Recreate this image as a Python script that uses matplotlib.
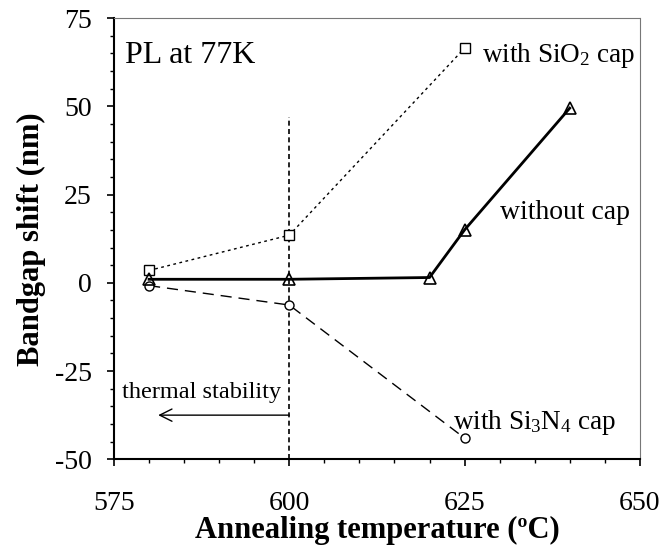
import matplotlib.pyplot as plt
from matplotlib.ticker import MultipleLocator

plt.rcParams['font.family'] = ['Liberation Serif', 'DejaVu Serif']
plt.rcParams['axes.unicode_minus'] = False
plt.rcParams['mathtext.fontset'] = 'custom'
plt.rcParams['mathtext.rm'] = 'Liberation Serif'
plt.rcParams['mathtext.it'] = 'Liberation Serif:italic'
plt.rcParams['mathtext.bf'] = 'Liberation Serif:bold'

# annealing temperature (C) and bandgap shift (nm)
sio2_temp = [580, 600, 625]
sio2_shift = [3.5, 13.5, 66.5]

nocap_temp = [580, 600, 620, 625, 640]
nocap_shift = [1.0, 1.0, 1.5, 15.0, 49.5]

si3n4_temp = [580, 600, 625]
si3n4_shift = [-0.8, -6.3, -44.0]

x_ticks = [575, 600, 625, 650]
y_ticks = [-50, -25, 0, 25, 50, 75]

fig = plt.figure(figsize=(6.61, 5.5), dpi=100)
ax = fig.add_axes([0.1725, 0.165, 0.7955, 0.802])

ax.plot(sio2_temp, sio2_shift, color='black', linestyle=(0, (2, 2.5)), linewidth=1.0,
        marker='s', markersize=7, markerfacecolor='white', markeredgecolor='black',
        markeredgewidth=1.0, zorder=3)
ax.plot(nocap_temp, nocap_shift, color='black', linestyle='-', linewidth=2.0,
        marker='^', markersize=9, markerfacecolor='none', markeredgecolor='black',
        markeredgewidth=1.2, zorder=4)
ax.plot(si3n4_temp, si3n4_shift, color='black', linestyle=(0, (8, 5)), linewidth=1.0,
        marker='o', markersize=6.5, markerfacecolor='white', markeredgecolor='black',
        markeredgewidth=1.0, zorder=3)

# thermal stability limit
ax.plot([600, 600], [-50, 47], color='black', linestyle=(0, (3, 2)), linewidth=1.2, zorder=2)
ax.annotate('', xy=(581.3, -37.5), xytext=(600, -37.5),
            arrowprops=dict(arrowstyle='->', color='black', lw=1.0,
                            mutation_scale=22, shrinkA=0, shrinkB=0))
ax.text(576.2, -31, 'thermal stability', fontsize=17.5, va='center', ha='left')

ax.text(576.6, 64.5, 'PL at 77K', fontsize=23, va='center', ha='left')
ax.text(627.5, 64.5, r'with SiO$_\mathrm{2}$ cap', fontsize=19.5, va='center', ha='left')
ax.text(630.0, 20.0, 'without cap', fontsize=20, va='center', ha='left')
ax.text(623.4, -39.5, r'with Si$_\mathrm{3}$N$_\mathrm{4}$ cap', fontsize=19.5, va='center', ha='left')

ax.set_xlim(575, 650)
ax.set_ylim(-50, 75)
ax.set_xticks(x_ticks)
ax.set_yticks(y_ticks)
ax.xaxis.set_minor_locator(MultipleLocator(5))
ax.yaxis.set_minor_locator(MultipleLocator(5))
ax.tick_params(which='major', direction='out', length=5, width=1.2, labelsize=20, pad=11)
ax.tick_params(which='minor', direction='out', length=3, width=1.0)
ax.tick_params(axis='x', pad=18)

for side in ['top', 'right']:
    ax.spines[side].set_linestyle((0, (1, 1)))
    ax.spines[side].set_linewidth(0.8)
    ax.spines[side].set_color('#777777')
for side in ['left', 'bottom']:
    ax.spines[side].set_linewidth(1.5)

ax.set_xlabel('Annealing temperature (\u00baC)', fontsize=22, fontweight='bold', labelpad=0)
ax.set_ylabel('Bandgap shift (nm)', fontsize=22, fontweight='bold', labelpad=6)

fig.savefig('out.png', dpi=100)
